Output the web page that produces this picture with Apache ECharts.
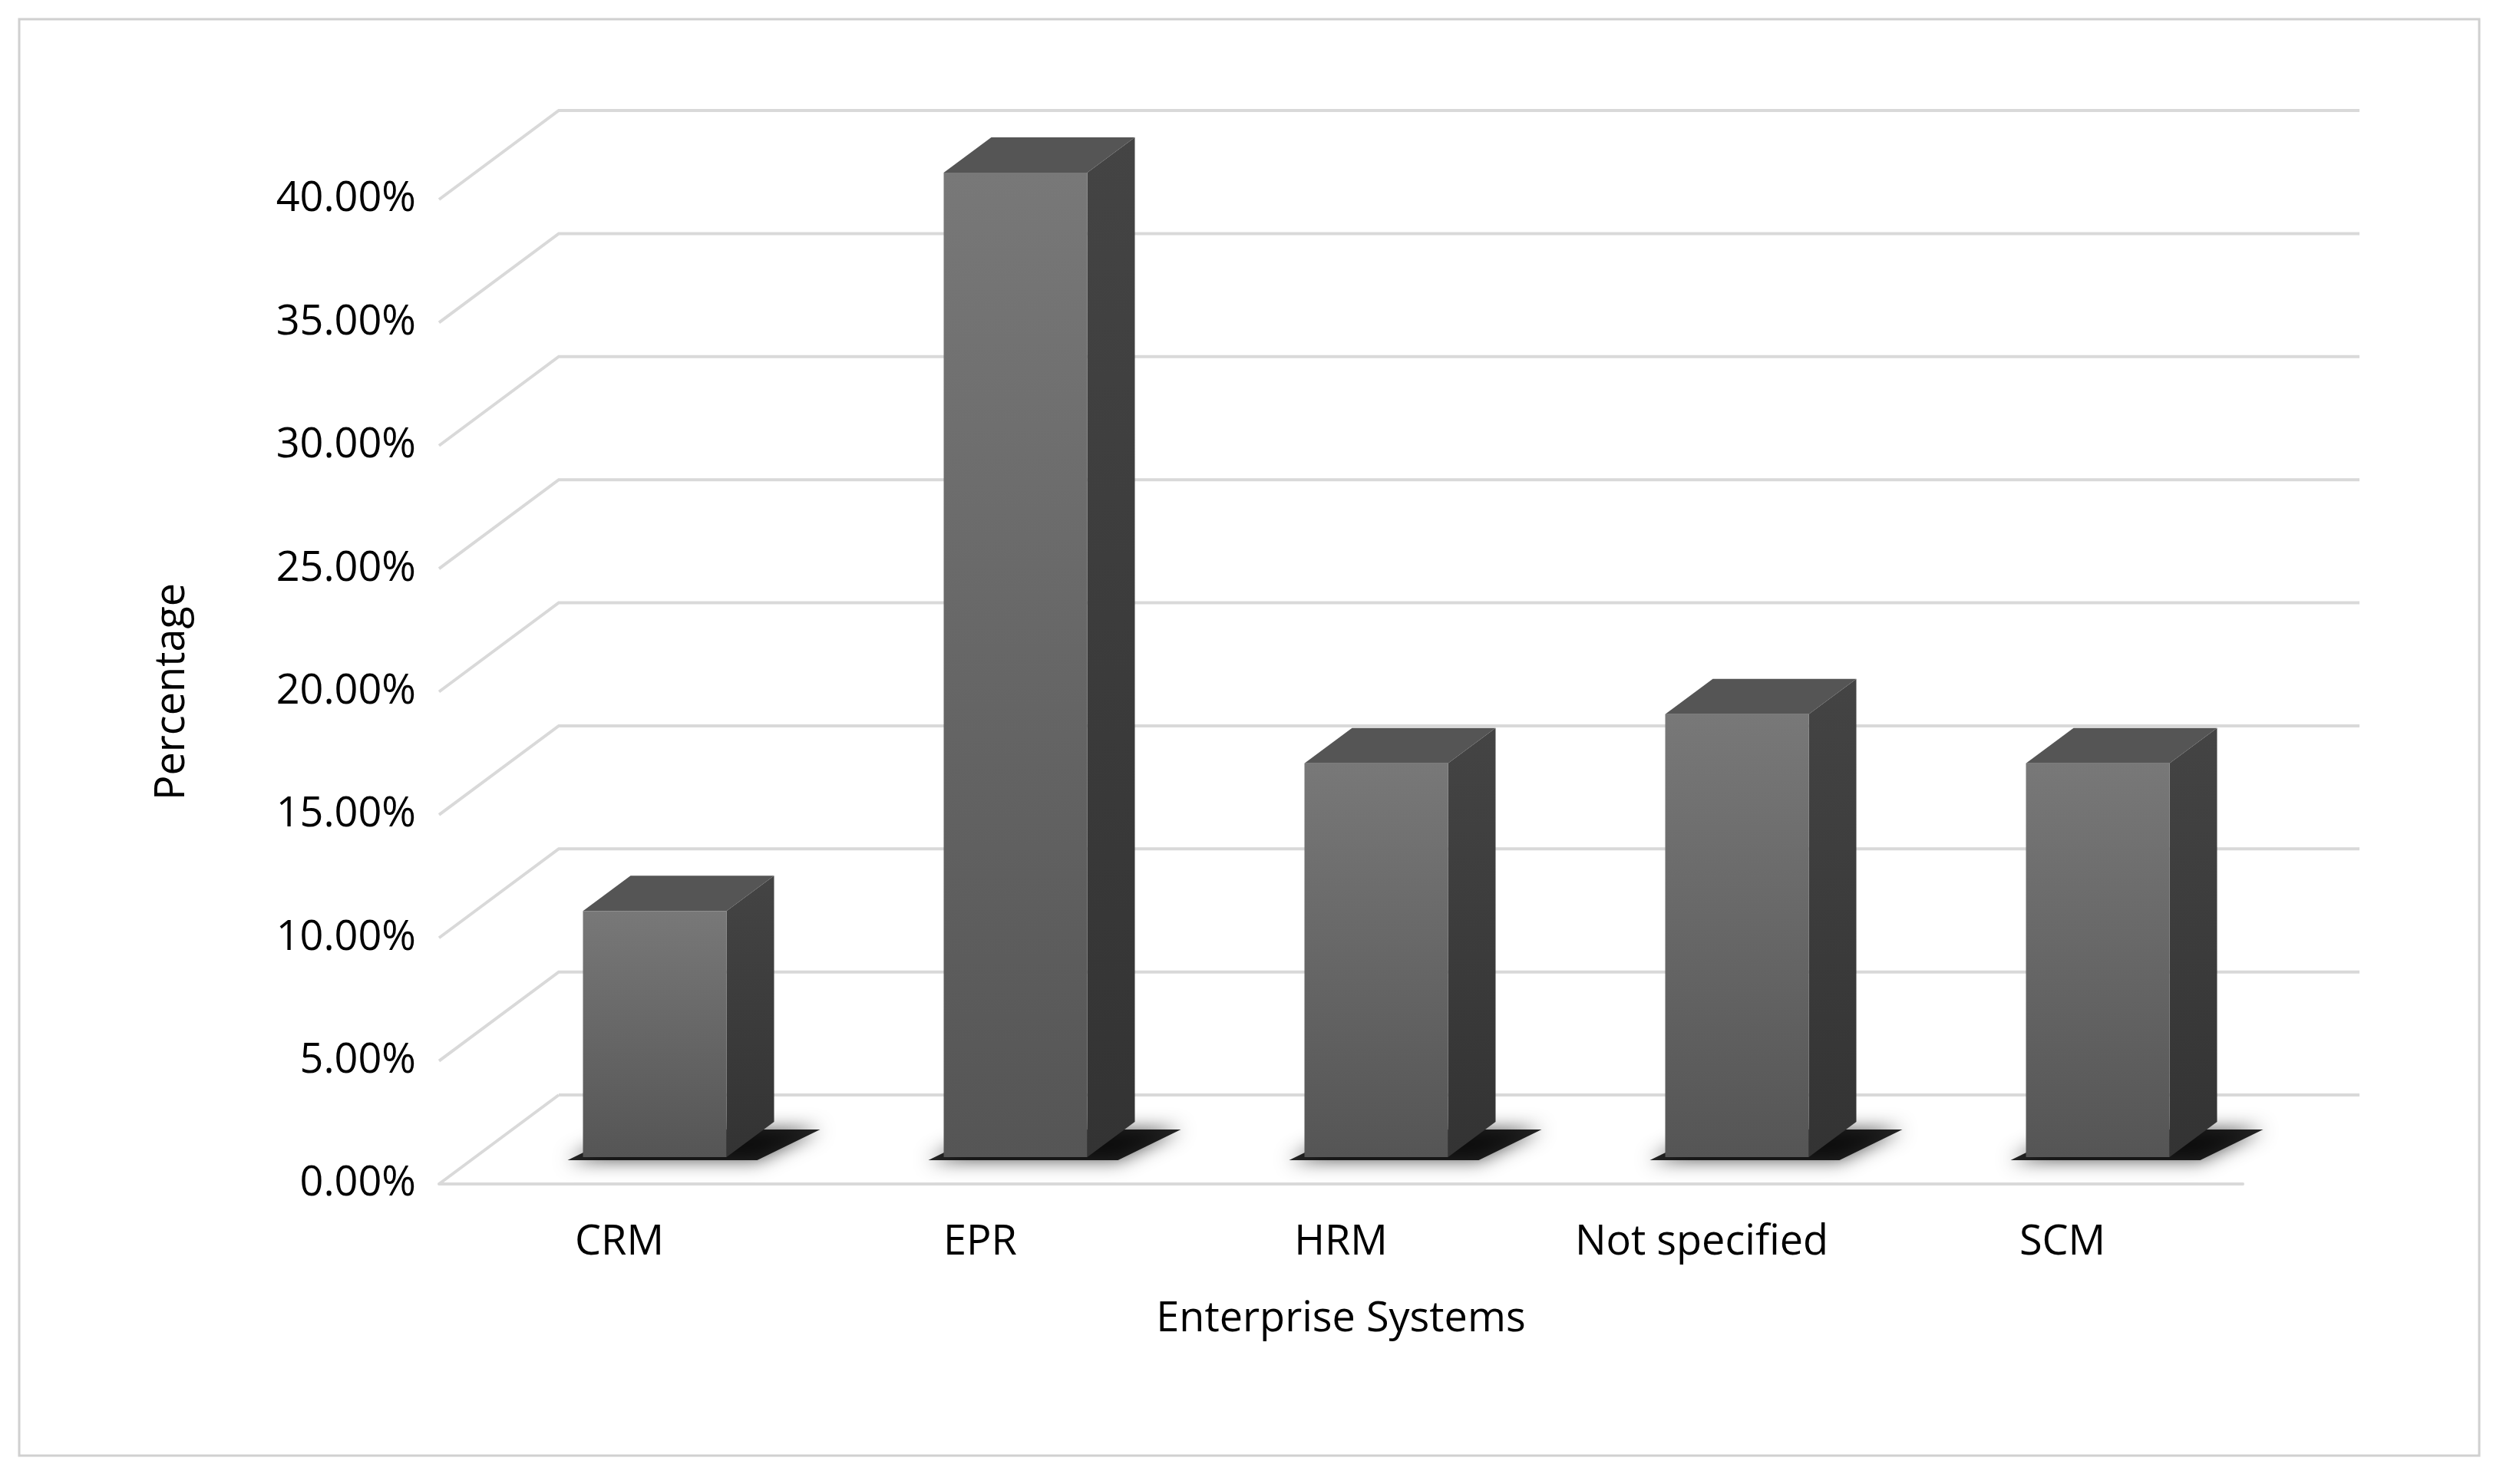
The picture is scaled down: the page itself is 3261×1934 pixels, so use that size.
<!DOCTYPE html>
<html><head><meta charset="utf-8">
<script src="https://cdn.jsdelivr.net/npm/echarts@6/dist/echarts.min.js"></script>
<style>html,body{margin:0;padding:0;background:#fff}#c{width:3261px;height:1934px}</style>
</head><body><div id="c"></div>
<script>
const categories = ['CRM', 'EPR', 'HRM', 'Not specified', 'SCM'];
const values = [10, 40, 16, 18, 16];
const gridTicks = [0, 5, 10, 15, 20, 25, 30, 35, 40];

const chart = echarts.init(document.getElementById('c'));
const DX = 156, DY = -116, BACK_RIGHT = 3074;
const FONT = 'Open Sans';

chart.setOption({
  backgroundColor: '#fff',
  animation: false,
  graphic: [{type: 'rect', shape: {x: 25, y: 25, width: 3205, height: 1872},
    style: {fill: 'none', stroke: '#d0d0d0', lineWidth: 3}}],
  grid: {left: 572, top: 260, width: 2350, height: 1283},
  xAxis: {type: 'category', data: categories,
    axisLine: {show: true, lineStyle: {color: '#d9d9d9', width: 4}},
    axisTick: {show: false},
    axisLabel: {fontFamily: FONT, fontSize: 54, color: '#000', margin: 50, offset: -0},
    name: 'Enterprise Systems', nameLocation: 'middle', nameGap: 150,
    nameTextStyle: {fontFamily: FONT, fontSize: 54, color: '#000'}},
  yAxis: {type: 'value', min: 0, max: 40, interval: 5,
    axisLine: {show: false}, axisTick: {show: false}, splitLine: {show: false},
    axisLabel: {fontFamily: FONT, fontSize: 54, color: '#000', margin: 30,
      formatter: v => v.toFixed(2) + '%'},
    name: 'Percentage', nameLocation: 'middle', nameGap: 320,
    nameTextStyle: {fontFamily: FONT, fontSize: 54, color: '#000'}},
  series: [
    {type: 'custom', z: 1, data: gridTicks.map(v => [0, v]),
     renderItem: (params, api) => {
       const p = api.coord([0, api.value(1)]);
       const x0 = 572, y = p[1];
       const pts = api.value(1) === 0 ? [[x0 + DX, y + DY], [BACK_RIGHT, y + DY]] :
         [[x0, y], [x0 + DX, y + DY], [BACK_RIGHT, y + DY]];
       const children = [{type: 'polyline', shape: {points: pts},
         style: {stroke: '#d9d9d9', lineWidth: 4, fill: 'none'}}];
       if (api.value(1) === 0) children.push({type: 'line', shape: {x1: x0, y1: y, x2: x0 + DX, y2: y + DY},
         style: {stroke: '#d9d9d9', lineWidth: 4}});
       return {type: 'group', children};
     }},
    {type: 'custom', z: 5, data: values.map((v, i) => [i, v]),
     renderItem: (params, api) => {
       const base = api.coord([api.value(0), 0]);
       const top = api.coord([api.value(0), api.value(1)]);
       const w = 187, sx = 62, sy = -46;
       const cx = base[0] + 46, by = base[1] - 35, ty = top[1] - 35;
       const l = cx - w / 2, r = cx + w / 2;
       return {type: 'group', children: [
         {type: 'polygon', shape: {points: [[l - 20, by + 4], [r + 40, by + 4], [r + sx + 60, by + sy + 10], [l + sx, by + sy + 10]]},
          style: {fill: 'rgba(0,0,0,0.85)', shadowBlur: 25, shadowColor: 'rgba(0,0,0,0.8)'}},
         {type: 'polygon', shape: {points: [[r, ty], [r + sx, ty + sy], [r + sx, by + sy], [r, by]]},
          style: {fill: new echarts.graphic.LinearGradient(0, 0, 0, 1, [{offset: 0, color: '#444'}, {offset: 1, color: '#333'}])}},
         {type: 'polygon', shape: {points: [[l, ty], [l + sx, ty + sy], [r + sx, ty + sy], [r, ty]]},
          style: {fill: '#555'}},
         {type: 'rect', shape: {x: l, y: ty, width: w, height: by - ty},
          style: {fill: new echarts.graphic.LinearGradient(0, 0, 0, 1, [{offset: 0, color: '#787878'}, {offset: 1, color: '#555'}])}}
       ]};
     }}
  ]
});
</script></body></html>
